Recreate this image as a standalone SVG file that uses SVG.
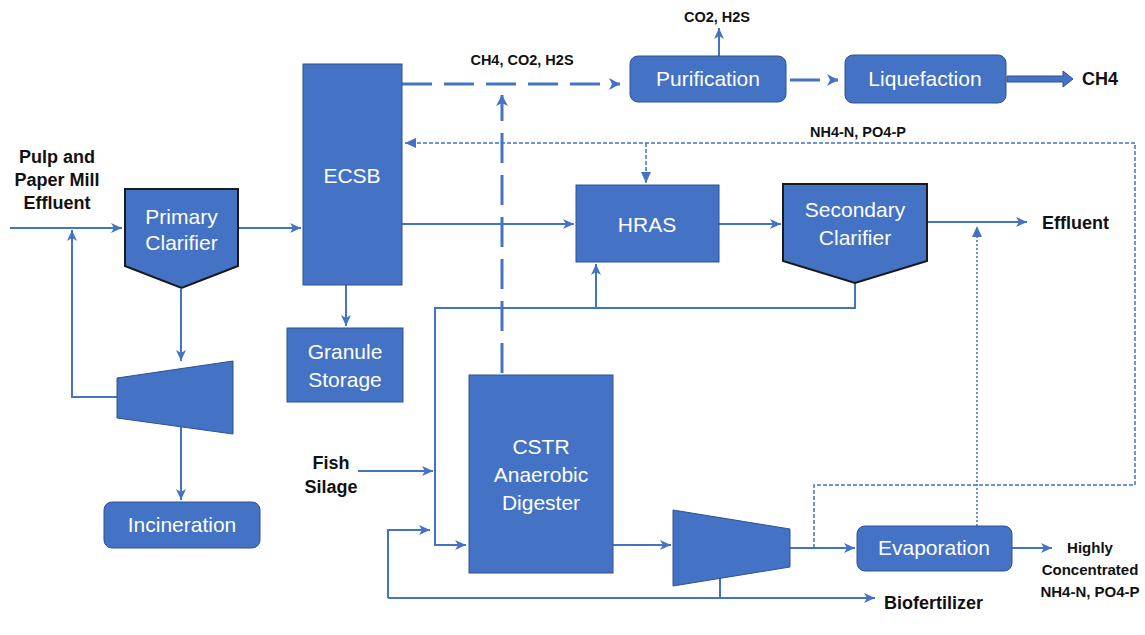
<svg xmlns="http://www.w3.org/2000/svg" width="1145" height="635" viewBox="0 0 1145 635">
<style>
.box{fill:#4472C4;stroke:#2F528F;stroke-width:1}
.clar{fill:#4472C4;stroke:#1a1a1a;stroke-width:2}
.nt{font-family:"Liberation Sans",Arial,sans-serif;font-size:21px;fill:#ffffff;text-anchor:middle}
.lb{font-family:"Liberation Sans",Arial,sans-serif;font-weight:bold;fill:#111111}
.ln{fill:none;stroke:#4472C4;stroke-width:2}
.gas{fill:none;stroke:#4472C4;stroke-width:3;stroke-dasharray:30 12}
.dot{fill:none;stroke:#4472C4;stroke-width:1.5;stroke-dasharray:4 2}
.fine{fill:none;stroke:#4472C4;stroke-width:1.5;stroke-dasharray:2 2}
</style>
<defs>
<marker id="a" markerUnits="userSpaceOnUse" markerWidth="12" markerHeight="12" refX="11" refY="6" orient="auto"><path d="M0,1 L11,6 L0,11 L3,6 z" fill="#4472C4"/></marker>
<marker id="g" markerUnits="userSpaceOnUse" markerWidth="12" markerHeight="14" refX="11" refY="7" orient="auto"><path d="M0,1 L11,7 L0,13 L3,7 z" fill="#4472C4"/></marker>
<marker id="d" markerUnits="userSpaceOnUse" markerWidth="12" markerHeight="12" refX="11" refY="6" orient="auto"><path d="M0,1 L11,6 L0,11 z" fill="#4472C4"/></marker>
</defs>

<g id="connectors">
<path class="ln" d="M10,228 H122" marker-end="url(#a)"/>
<path class="ln" d="M238,228 H301" marker-end="url(#a)"/>
<path class="ln" d="M181,289 V361" marker-end="url(#a)"/>
<path class="ln" d="M181,427 V500" marker-end="url(#a)"/>
<path class="ln" d="M117,397 H72 V230" marker-end="url(#a)"/>
<path class="ln" d="M346,285 V326" marker-end="url(#a)"/>
<path class="ln" d="M402,224 H574" marker-end="url(#a)"/>
<path class="ln" d="M719,224 H781" marker-end="url(#a)"/>
<path class="ln" d="M927,222 H1027" marker-end="url(#a)"/>
<path class="ln" d="M855,283 V308 H435 V545 H466" marker-end="url(#a)"/>
<path class="ln" d="M596,308 V264" marker-end="url(#a)"/>
<path class="ln" d="M358,471 H433" marker-end="url(#a)"/>
<path class="ln" d="M720,578 V598"/>
<path class="ln" d="M388,598 H875" marker-end="url(#a)"/>
<path class="ln" d="M388,598 V530 H430" marker-end="url(#a)"/>
<path class="ln" d="M613,545 H671" marker-end="url(#a)"/>
<path class="ln" d="M790,548 H855" marker-end="url(#a)"/>
<path class="ln" d="M1012,548 H1052" marker-end="url(#a)"/>
<path class="ln" d="M719,56 V28" marker-end="url(#a)"/>
<path class="gas" d="M402,84 H620" marker-end="url(#g)"/>
<path class="gas" d="M502,373 V95" marker-end="url(#g)"/>
<path class="gas" d="M790,80 H838" stroke-dasharray="30 6" marker-end="url(#g)"/>
<path d="M1007,76 H1063 V71 L1073,79 L1063,87 V82 H1007 z" fill="#4472C4" stroke="#2F528F" stroke-width="1"/>
<path class="dot" d="M814,548 V485 H1135 V143 H405" marker-end="url(#d)"/>
<path class="dot" d="M646,143 V183" marker-end="url(#d)"/>
<path class="fine" d="M977,526 V226" marker-end="url(#d)"/>
</g>

<g id="primary-clarifier">
<polygon class="clar" points="125,189 238,189 238,266 181.5,288 125,266"/>
<text class="nt" x="181.5" y="224">Primary</text>
<text class="nt" x="181.5" y="250">Clarifier</text>
</g>
<g id="splitter1">
<polygon class="box" points="117,378 233,361 233,434 117,418"/>
</g>
<g id="incineration">
<rect class="box" x="104" y="502" width="156" height="46" rx="8"/>
<text class="nt" x="182" y="532">Incineration</text>
</g>
<g id="ecsb">
<rect class="box" x="303" y="64" width="99" height="221"/>
<text class="nt" x="352" y="183">ECSB</text>
</g>
<g id="granule-storage">
<rect class="box" x="287" y="328" width="116" height="74"/>
<text class="nt" x="345" y="359">Granule</text>
<text class="nt" x="345" y="387">Storage</text>
</g>
<g id="purification">
<rect class="box" x="630" y="56" width="156" height="46" rx="8"/>
<text class="nt" x="708" y="86">Purification</text>
</g>
<g id="liquefaction">
<rect class="box" x="845" y="55" width="161" height="48" rx="8"/>
<text class="nt" x="925" y="86">Liquefaction</text>
</g>
<g id="hras">
<rect class="box" x="576" y="185" width="143" height="77"/>
<text class="nt" x="647" y="232">HRAS</text>
</g>
<g id="secondary-clarifier">
<polygon class="clar" points="783,184 927,184 927,261 855,283 783,261"/>
<text class="nt" x="855" y="217">Secondary</text>
<text class="nt" x="855" y="245">Clarifier</text>
</g>
<g id="cstr">
<rect class="box" x="469" y="375" width="144" height="198"/>
<text class="nt" x="541" y="454">CSTR</text>
<text class="nt" x="541" y="482">Anaerobic</text>
<text class="nt" x="541" y="510">Digester</text>
</g>
<g id="splitter2">
<polygon class="box" points="673,510 790,529 790,567 673,586"/>
</g>
<g id="evaporation">
<rect class="box" x="857" y="526" width="155" height="45" rx="8"/>
<text class="nt" x="934" y="555">Evaporation</text>
</g>

<g id="labels">
<text class="lb" font-size="18" text-anchor="middle" x="57" y="163">Pulp and</text>
<text class="lb" font-size="18" text-anchor="middle" x="57" y="186">Paper Mill</text>
<text class="lb" font-size="18" text-anchor="middle" x="57" y="209">Effluent</text>
<text class="lb" font-size="14.5" text-anchor="middle" x="522" y="65">CH4, CO2, H2S</text>
<text class="lb" font-size="14.5" text-anchor="middle" x="717" y="22">CO2, H2S</text>
<text class="lb" font-size="14.5" x="810" y="137">NH4-N, PO4-P</text>
<text class="lb" font-size="18" x="1082" y="85">CH4</text>
<text class="lb" font-size="18" x="1042" y="229">Effluent</text>
<text class="lb" font-size="18" text-anchor="middle" x="331" y="469">Fish</text>
<text class="lb" font-size="18" text-anchor="middle" x="331" y="493">Silage</text>
<text class="lb" font-size="15" text-anchor="middle" x="1090" y="553">Highly</text>
<text class="lb" font-size="15" text-anchor="middle" x="1090" y="575">Concentrated</text>
<text class="lb" font-size="15" text-anchor="middle" x="1090" y="597">NH4-N, PO4-P</text>
<text class="lb" font-size="18" x="884" y="609">Biofertilizer</text>
</g>
</svg>
